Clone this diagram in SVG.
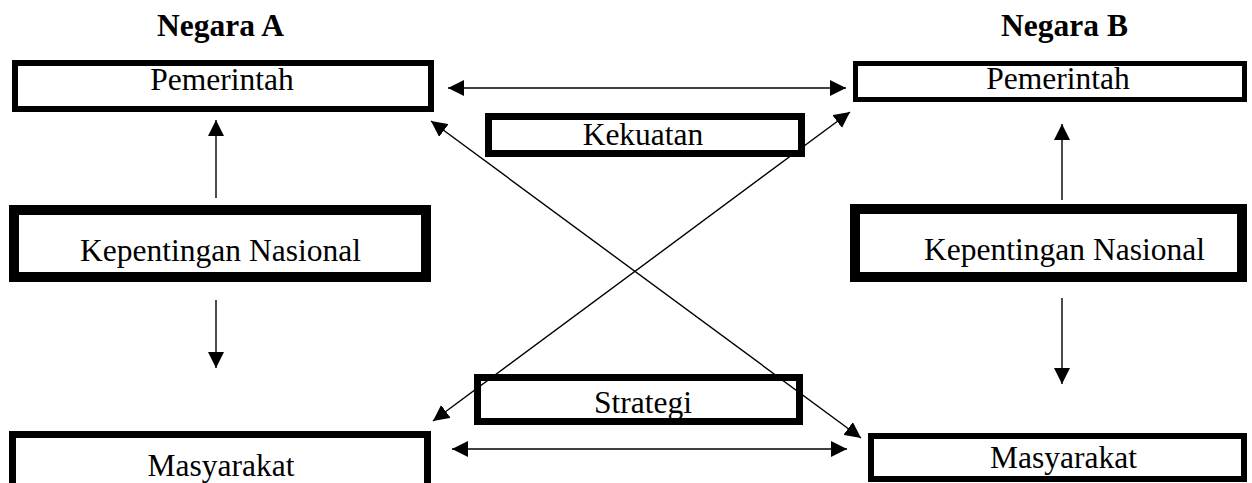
<svg xmlns="http://www.w3.org/2000/svg" width="1252" height="483" viewBox="0 0 1252 483">
<style>
.box{fill:#fff;stroke:#000}
.t{font-family:"Liberation Serif","Times New Roman",serif;font-size:31.5px;fill:#000;text-anchor:middle}
.h{font-weight:bold}
.c{stroke:#000;stroke-width:1.4;fill:none}
</style>
<defs>
<marker id="ah" viewBox="0 0 16 16" refX="16" refY="8" markerWidth="16" markerHeight="16" markerUnits="userSpaceOnUse" orient="auto-start-reverse">
<path d="M0,0 L16,8 L0,16 z" fill="#000"/>
</marker>
</defs>
<rect width="1252" height="483" fill="#fff"/>
<g id="head-a"><text class="t h" x="220.5" y="36">Negara A</text></g>
<g id="head-b"><text class="t h" x="1064.5" y="36">Negara B</text></g>
<g id="pemerintah-a"><rect class="box" x="15" y="63" width="416" height="46" stroke-width="6"/><text class="t" x="222" y="90">Pemerintah</text></g>
<g id="pemerintah-b"><rect class="box" x="855.5" y="63.5" width="389" height="36" stroke-width="5"/><text class="t" x="1058" y="89">Pemerintah</text></g>
<g id="kepentingan-a"><rect class="box" x="14" y="210" width="412" height="67" stroke-width="10"/><text class="t" x="220.5" y="261">Kepentingan Nasional</text></g>
<g id="kepentingan-b"><rect class="box" x="855" y="209" width="387" height="68" stroke-width="10"/><text class="t" x="1064.5" y="260">Kepentingan Nasional</text></g>
<g id="kekuatan"><rect class="box" x="488.5" y="116.5" width="313" height="37" stroke-width="7"/><text class="t" x="643" y="145">Kekuatan</text></g>
<g id="strategi"><rect class="box" x="477.5" y="377.5" width="322" height="44" stroke-width="7"/><text class="t" x="643" y="413">Strategi</text></g>
<g id="masyarakat-a"><rect class="box" x="12.5" y="434.5" width="415" height="56" stroke-width="7"/><text class="t" x="221" y="476">Masyarakat</text></g>
<g id="masyarakat-b"><rect class="box" x="871" y="436" width="373" height="43" stroke-width="6"/><text class="t" x="1063.5" y="468">Masyarakat</text></g>
<g id="connectors">
<line class="c" x1="448" y1="88" x2="846" y2="88" marker-start="url(#ah)" marker-end="url(#ah)"/>
<line class="c" x1="452" y1="449" x2="847" y2="449" marker-start="url(#ah)" marker-end="url(#ah)"/>
<line class="c" x1="216" y1="198" x2="216" y2="120" marker-end="url(#ah)"/>
<line class="c" x1="216" y1="300" x2="216" y2="368" marker-end="url(#ah)"/>
<line class="c" x1="1062" y1="200" x2="1062" y2="124" marker-end="url(#ah)"/>
<line class="c" x1="1062" y1="298" x2="1062" y2="384" marker-end="url(#ah)"/>
<line class="c" x1="431" y1="121" x2="861" y2="438" marker-start="url(#ah)" marker-end="url(#ah)"/>
<line class="c" x1="433" y1="421" x2="850" y2="112" marker-start="url(#ah)" marker-end="url(#ah)"/>
</g>
</svg>
